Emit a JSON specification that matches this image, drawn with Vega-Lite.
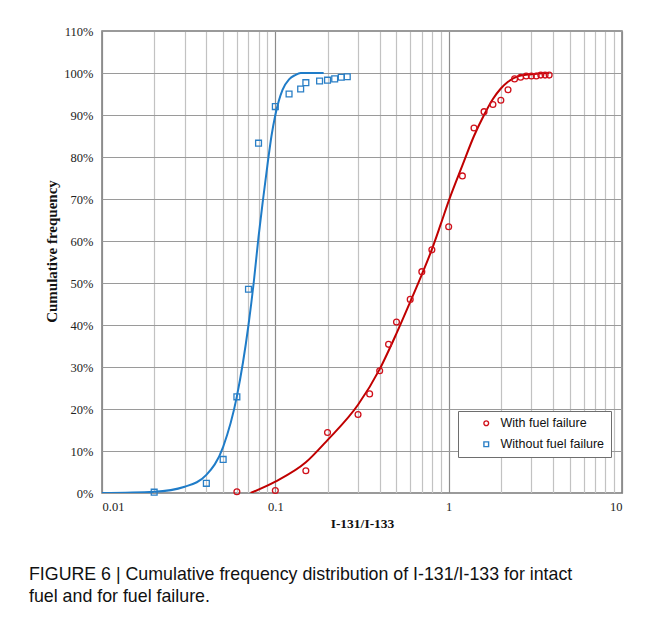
{
  "$schema": "https://vega.github.io/schema/vega-lite/v6.json",
  "width": 520,
  "height": 462,
  "autosize": {"type": "none"},
  "padding": {"left": 102, "top": 31, "right": 41, "bottom": 127},
  "background": "white",
  "title": {
    "text": ["FIGURE 6 | Cumulative frequency distribution of I-131/I-133 for intact", "fuel and for fuel failure."],
    "orient": "bottom",
    "anchor": "start",
    "frame": "group",
    "dx": -73,
    "offset": 36,
    "font": "Liberation Sans",
    "fontSize": 17.8,
    "fontWeight": "normal",
    "lineHeight": 22,
    "color": "#111111"
  },
  "datasets": {
    "curves": [
      {"series": "Without fuel failure", "x": 0.01, "y": 0.0},
      {"series": "Without fuel failure", "x": 0.02, "y": 0.003},
      {"series": "Without fuel failure", "x": 0.03, "y": 0.015},
      {"series": "Without fuel failure", "x": 0.04, "y": 0.043},
      {"series": "Without fuel failure", "x": 0.05, "y": 0.11},
      {"series": "Without fuel failure", "x": 0.06, "y": 0.23},
      {"series": "Without fuel failure", "x": 0.07, "y": 0.40},
      {"series": "Without fuel failure", "x": 0.075, "y": 0.50},
      {"series": "Without fuel failure", "x": 0.08, "y": 0.61},
      {"series": "Without fuel failure", "x": 0.085, "y": 0.70},
      {"series": "Without fuel failure", "x": 0.09, "y": 0.78},
      {"series": "Without fuel failure", "x": 0.095, "y": 0.85},
      {"series": "Without fuel failure", "x": 0.1, "y": 0.90},
      {"series": "Without fuel failure", "x": 0.11, "y": 0.96},
      {"series": "Without fuel failure", "x": 0.12, "y": 0.985},
      {"series": "Without fuel failure", "x": 0.13, "y": 0.995},
      {"series": "Without fuel failure", "x": 0.14, "y": 1.0},
      {"series": "Without fuel failure", "x": 0.19, "y": 1.0},
      {"series": "With fuel failure", "x": 0.072, "y": 0.0},
      {"series": "With fuel failure", "x": 0.1, "y": 0.027},
      {"series": "With fuel failure", "x": 0.15, "y": 0.073},
      {"series": "With fuel failure", "x": 0.2, "y": 0.126},
      {"series": "With fuel failure", "x": 0.3, "y": 0.21},
      {"series": "With fuel failure", "x": 0.4, "y": 0.295},
      {"series": "With fuel failure", "x": 0.5, "y": 0.38},
      {"series": "With fuel failure", "x": 0.6, "y": 0.455},
      {"series": "With fuel failure", "x": 0.7, "y": 0.52},
      {"series": "With fuel failure", "x": 0.8, "y": 0.58},
      {"series": "With fuel failure", "x": 0.9, "y": 0.64},
      {"series": "With fuel failure", "x": 1.0, "y": 0.695},
      {"series": "With fuel failure", "x": 1.2, "y": 0.78},
      {"series": "With fuel failure", "x": 1.4, "y": 0.85},
      {"series": "With fuel failure", "x": 1.6, "y": 0.90},
      {"series": "With fuel failure", "x": 1.8, "y": 0.938},
      {"series": "With fuel failure", "x": 2.0, "y": 0.963},
      {"series": "With fuel failure", "x": 2.2, "y": 0.979},
      {"series": "With fuel failure", "x": 2.5, "y": 0.992},
      {"series": "With fuel failure", "x": 3.0, "y": 0.997},
      {"series": "With fuel failure", "x": 3.8, "y": 1.0}
    ],
    "points": [
      {"series": "With fuel failure", "x": 0.06, "y": 0.003},
      {"series": "With fuel failure", "x": 0.1, "y": 0.006},
      {"series": "With fuel failure", "x": 0.15, "y": 0.053},
      {"series": "With fuel failure", "x": 0.2, "y": 0.144},
      {"series": "With fuel failure", "x": 0.3, "y": 0.187},
      {"series": "With fuel failure", "x": 0.35, "y": 0.236},
      {"series": "With fuel failure", "x": 0.4, "y": 0.291},
      {"series": "With fuel failure", "x": 0.45, "y": 0.354},
      {"series": "With fuel failure", "x": 0.5, "y": 0.407},
      {"series": "With fuel failure", "x": 0.6, "y": 0.461},
      {"series": "With fuel failure", "x": 0.7, "y": 0.527},
      {"series": "With fuel failure", "x": 0.8, "y": 0.579},
      {"series": "With fuel failure", "x": 1.0, "y": 0.634},
      {"series": "With fuel failure", "x": 1.2, "y": 0.755},
      {"series": "With fuel failure", "x": 1.4, "y": 0.869},
      {"series": "With fuel failure", "x": 1.6, "y": 0.908},
      {"series": "With fuel failure", "x": 1.8, "y": 0.925},
      {"series": "With fuel failure", "x": 2.0, "y": 0.935},
      {"series": "With fuel failure", "x": 2.2, "y": 0.96},
      {"series": "With fuel failure", "x": 2.4, "y": 0.986},
      {"series": "With fuel failure", "x": 2.6, "y": 0.99},
      {"series": "With fuel failure", "x": 2.8, "y": 0.993},
      {"series": "With fuel failure", "x": 3.0, "y": 0.993},
      {"series": "With fuel failure", "x": 3.2, "y": 0.993},
      {"series": "With fuel failure", "x": 3.4, "y": 0.995},
      {"series": "With fuel failure", "x": 3.6, "y": 0.995},
      {"series": "With fuel failure", "x": 3.8, "y": 0.995},
      {"series": "Without fuel failure", "x": 0.02, "y": 0.002},
      {"series": "Without fuel failure", "x": 0.04, "y": 0.023},
      {"series": "Without fuel failure", "x": 0.05, "y": 0.08},
      {"series": "Without fuel failure", "x": 0.06, "y": 0.229},
      {"series": "Without fuel failure", "x": 0.07, "y": 0.485},
      {"series": "Without fuel failure", "x": 0.08, "y": 0.833},
      {"series": "Without fuel failure", "x": 0.1, "y": 0.92},
      {"series": "Without fuel failure", "x": 0.12, "y": 0.95},
      {"series": "Without fuel failure", "x": 0.14, "y": 0.962},
      {"series": "Without fuel failure", "x": 0.15, "y": 0.977},
      {"series": "Without fuel failure", "x": 0.18, "y": 0.981},
      {"series": "Without fuel failure", "x": 0.2, "y": 0.983},
      {"series": "Without fuel failure", "x": 0.22, "y": 0.986},
      {"series": "Without fuel failure", "x": 0.24, "y": 0.99},
      {"series": "Without fuel failure", "x": 0.26, "y": 0.991}
    ]
  },
  "encoding": {
    "x": {
      "field": "x",
      "type": "quantitative",
      "scale": {"type": "log", "domain": [0.01, 10], "nice": false},
      "axis": {
        "title": "I-131/I-133",
        "values": [0.01, 0.02, 0.03, 0.04, 0.05, 0.06, 0.07, 0.08, 0.09, 0.1, 0.2, 0.3, 0.4, 0.5, 0.6, 0.7, 0.8, 0.9, 1, 2, 3, 4, 5, 6, 7, 8, 9, 10],
        "format": "~g",
        "labelExpr": "indexof([0.01, 0.1, 1, 10], datum.value) >= 0 ? datum.label : ''",
        "gridColor": {"condition": {"test": "indexof([0.01, 0.1, 1, 10], datum.value) >= 0", "value": "#8c8c8c"}, "value": "#c2c2c2"},
        "labelPadding": 7,
        "titlePadding": 4
      }
    },
    "y": {
      "field": "y",
      "type": "quantitative",
      "scale": {"domain": [0, 1.1], "nice": false},
      "axis": {
        "title": "Cumulative  frequency",
        "titleFontSize": 15,
        "titleY": 220,
        "values": [0, 0.1, 0.2, 0.3, 0.4, 0.5, 0.6, 0.7, 0.8, 0.9, 1.0, 1.1],
        "format": ".0%",
        "gridColor": "#9a9a9a",
        "labelPadding": 9,
        "titlePadding": 4
      }
    }
  },
  "layer": [
    {
      "data": {"name": "curves"},
      "transform": [{"filter": "datum.series == 'Without fuel failure'"}],
      "mark": {"type": "line", "color": "#1f7cc8", "strokeWidth": 2, "interpolate": "monotone", "clip": true}
    },
    {
      "data": {"name": "curves"},
      "transform": [{"filter": "datum.series == 'With fuel failure'"}],
      "mark": {"type": "line", "color": "#c00000", "strokeWidth": 2, "interpolate": "monotone", "clip": true}
    },
    {
      "data": {"name": "points"},
      "mark": {"type": "point", "filled": false, "size": 34, "strokeWidth": 1.3, "opacity": 1},
      "encoding": {
        "color": {
          "field": "series",
          "type": "nominal",
          "scale": {"domain": ["With fuel failure", "Without fuel failure"], "range": ["#d0101a", "#2a7fc6"]},
          "legend": {
            "title": null,
            "orient": "none",
            "legendX": 356,
            "legendY": 380,
            "direction": "vertical"
          }
        },
        "shape": {
          "field": "series",
          "type": "nominal",
          "scale": {"domain": ["With fuel failure", "Without fuel failure"], "range": ["circle", "square"]},
          "legend": {
            "title": null,
            "orient": "none",
            "legendX": 356,
            "legendY": 380,
            "direction": "vertical"
          }
        }
      }
    }
  ],
  "config": {
    "view": {"stroke": "#7a7a7a", "strokeWidth": 1.5},
    "axis": {
      "grid": true,
      "gridWidth": 1.2,
      "gridOpacity": 1,
      "domain": false,
      "ticks": false,
      "labelFont": "Liberation Serif",
      "labelFontSize": 12.5,
      "labelColor": "#222222",
      "titleFont": "Liberation Serif",
      "titleFontSize": 13.5,
      "titleFontWeight": "bold",
      "titleColor": "#111111"
    },
    "legend": {
      "strokeColor": "#6e6e6e",
      "fillColor": "white",
      "padding": 6,
      "rowPadding": 8,
      "symbolSize": 22,
      "symbolStrokeWidth": 1.4,
      "symbolOffset": 16,
      "labelOffset": 8,
      "labelFont": "Liberation Sans",
      "labelFontSize": 12.5,
      "labelColor": "#111111",
      "labelLimit": 200
    }
  }
}
